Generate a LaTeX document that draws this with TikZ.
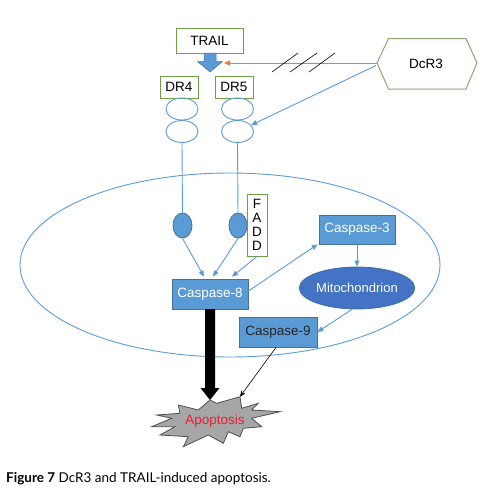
\documentclass[tikz,border=0pt]{standalone}
\usepackage{fontspec}
\setmainfont{Liberation Sans}
\newfontfamily\capfont{Lato}
\usetikzlibrary{arrows.meta,shapes.geometric,calc}
\definecolor{boxgreen}{RGB}{112,160,70}
\definecolor{hexgreen}{RGB}{140,165,110}
\definecolor{lineblue}{RGB}{91,155,213}
\definecolor{fillblue}{RGB}{91,155,213}
\definecolor{edgeblue}{RGB}{65,113,156}
\definecolor{mitoblue}{RGB}{68,114,196}
\definecolor{starfill}{RGB}{166,166,166}
\definecolor{stargray}{RGB}{80,80,80}
\definecolor{apored}{RGB}{235,30,50}
\definecolor{orangeline}{RGB}{237,125,49}
\tikzset{
  txt/.style={font=\fontsize{13.5}{15}\selectfont},
  greenbox/.style={draw=boxgreen,line width=1pt,fill=white,inner sep=0pt,txt},
  ring/.style={ellipse,draw=lineblue,line width=0.9pt,minimum width=32pt,minimum height=22pt,inner sep=0pt},
  blob/.style={ellipse,draw=edgeblue,fill=fillblue,line width=0.8pt,minimum width=19pt,minimum height=25pt,inner sep=0pt},
  casp/.style={rectangle,draw=edgeblue,fill=fillblue,line width=0.8pt,minimum width=76pt,minimum height=30pt,inner sep=0pt,txt},
  conn/.style={draw=lineblue,line width=0.9pt,-{Triangle[length=6pt,width=5pt]}},
  link/.style={draw=lineblue,line width=0.9pt},
}
\begin{document}
\begin{tikzpicture}[x=1pt,y=-1pt]
\useasboundingbox (0,0) rectangle (479,488);
% cell
\node[ellipse,draw=lineblue,line width=0.9pt,minimum width=420pt,minimum height=184pt,inner sep=0pt] (cell) at (230,265) {};
% TRAIL
\node[greenbox,minimum width=67pt,minimum height=25pt] (trail) at (209.5,40.5) {TRAIL};
\fill[fillblue,draw=edgeblue,line width=0.5pt] (204,53) -- (216,53) -- (216,61.5) -- (222.5,61.5) -- (210,72) -- (197.5,61.5) -- (204,61.5) -- cycle;
\coordinate (trailtip) at (224,63);
% DR boxes
\node[greenbox,minimum width=38pt,minimum height=22pt] (dr4) at (179,87) {DR4};
\node[greenbox,minimum width=38pt,minimum height=22pt] (dr5) at (234,87) {DR5};
% DcR3 hexagon
\draw[hexgreen,line width=1pt,fill=white] (377,63) -- (388.5,38.5) -- (466,38.5) -- (477,63) -- (466,89) -- (388.5,89) -- cycle;
\node[txt] (dcr3) at (426,63.5) {DcR3};
\coordinate (dcrl) at (377,63);
\coordinate (dcrb) at (376,65.5);
% receptor rings
\node[ring] (e4a) at (182,109) {};
\node[ring] (e4b) at (182,131.5) {};
\node[ring] (e5a) at (237.5,109) {};
\node[ring] (e5b) at (237.5,131.5) {};
% blobs
\node[blob] (f4) at (182.5,225.5) {};
\node[blob,minimum width=18pt] (f5) at (238,225.5) {};
% FADD
\node[greenbox,minimum width=20pt,minimum height=62pt,align=center,font=\fontsize{13.5}{14}\selectfont] (fadd) at (257,225) {F\\A\\D\\D};
% caspases
\node[casp,text=white] (c8) at (210,294) {Caspase-8};
\node[casp,text=white,minimum height=29pt] (c3) at (357,229.5) {Caspase-3};
\node[ellipse,draw=edgeblue,fill=mitoblue,line width=0.8pt,minimum width=102pt,minimum height=42pt,inner sep=0pt,text=white,font=\fontsize{13}{15}\selectfont] (mito) at (357,288) {Mitochondrion};
\node[casp,text=black!85,minimum width=78pt] (c9) at (278,332) {Caspase-9};
% starburst
\draw[stargray,fill=starfill,line width=0.8pt] (178.3,405) -- (198.3,410) -- (210,400) -- (216.7,403.3) -- (240,396.7) -- (241.7,408.3) -- (258.3,403.3) -- (251.7,410) -- (280,411.7) -- (251.7,418.3) -- (261.7,426.7) -- (243.3,428.3) -- (240,436.7) -- (228.3,431.7) -- (223.3,443.3) -- (208.3,435) -- (183.3,446.7) -- (188.3,436.7) -- (160,435) -- (175,426.7) -- (151.7,426.7) -- (171.7,418.3) -- (156.7,415) -- (180,413.3) -- cycle;
\node[txt,text=apored] (apo) at (215,421) {Apoptosis};
\coordinate (startop) at (210,400);
\coordinate (starhit) at (240,396.7);
% connectors
\draw[orangeline,line width=0.9pt,-{Triangle[length=6pt,width=5pt]}] (dcrl) -- (trailtip);
\draw[black,line width=0.6pt] (272,72) -- (298,53) (290,72) -- (317,53) (309,72) -- (335,53);
\draw[conn] (dcrb) -- (e5b.25);
\draw[link] (e4b.south) -- (f4.north);
\draw[link] (e5b.south) -- (f5.north);
\draw[conn] (f4.south) -- ($(c8.north)+(-6,-2)$);
\draw[conn] (f5.south) -- ($(c8.north)+(3,-2)$);
\draw[conn] (fadd.south) -- ($(c8.north)+(22,-2)$);
\draw[conn] ($(c8.east)+(0,-3)$) -- ($(c3.south west)+(-1,0)$);
\draw[conn] (c3.south) -- (mito.north);
\draw[conn] ($(mito.south)+(-5,0)$) -- (c9.east);
\draw[black,line width=0.6pt,-{Stealth[length=6pt,width=5pt]}] ($(c9.south)+(-2,0)$) -- (starhit);
\fill[black] (205,309) -- (215,309) -- (215,388) -- (219.5,388) -- (210,400) -- (200.5,388) -- (205,388) -- cycle;
% caption
\node[anchor=base west,inner sep=0pt,font=\capfont\fontsize{13.5}{16}\selectfont] (cap) at (6,482) {\textbf{Figure 7} DcR3 and TRAIL-induced apoptosis.};
\end{tikzpicture}
\end{document}
